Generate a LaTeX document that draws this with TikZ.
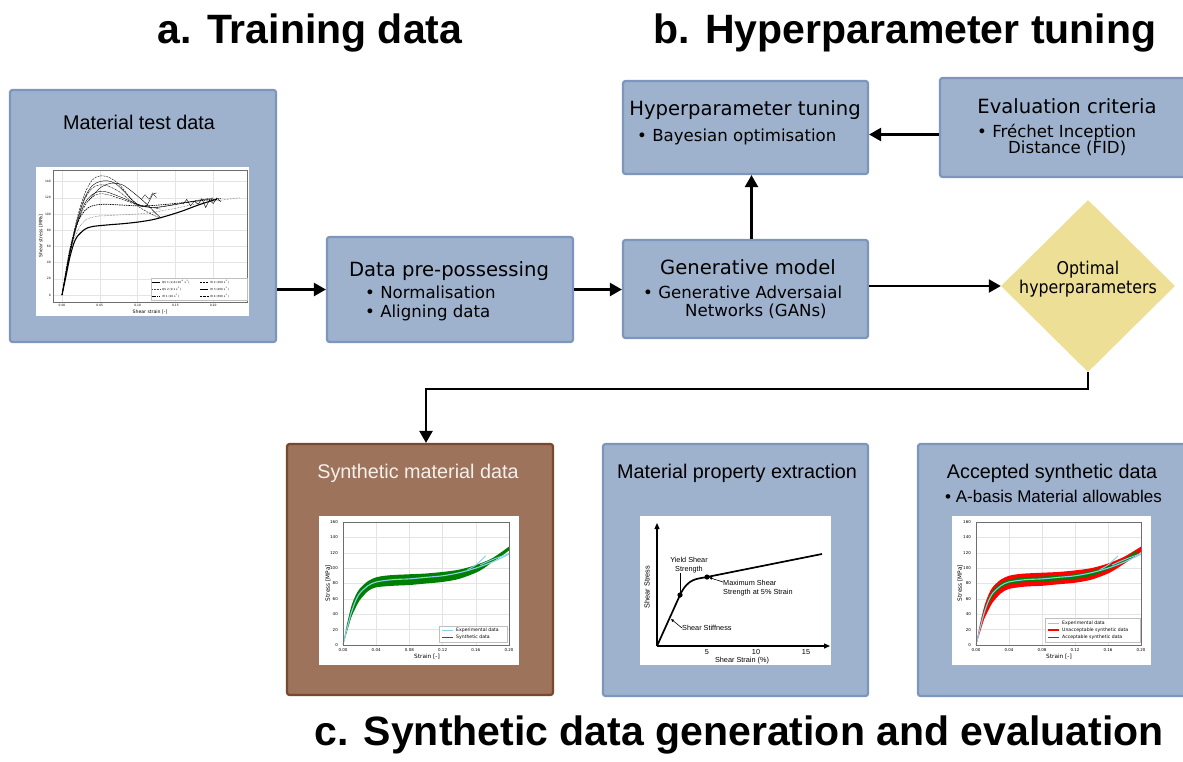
\documentclass[tikz,border=0pt]{standalone}
\usepackage{fontspec}
\setmainfont{Liberation Sans}
\newfontfamily\dv{DejaVu Sans}
\newfontfamily\dvc[FakeStretch=0.9]{DejaVu Sans}
\usetikzlibrary{arrows.meta,shapes.geometric}
\definecolor{boxfill}{RGB}{158,178,205}
\definecolor{boxline}{RGB}{126,150,189}
\definecolor{brownfill}{RGB}{157,115,91}
\definecolor{brownline}{RGB}{122,72,45}
\definecolor{diafill}{RGB}{238,223,150}
\definecolor{expblue}{RGB}{140,205,235}
\definecolor{syngreen}{RGB}{0,128,0}
\definecolor{gridgray}{RGB}{228,228,228}
\definecolor{framegray}{RGB}{110,110,110}
\definecolor{titlewhite}{RGB}{245,240,235}
\begin{document}
\begin{tikzpicture}[x=1pt,y=-1pt,
  box/.style={draw=boxline,fill=boxfill,line width=2.2pt,rounded corners=2.5pt,inner sep=0pt},
  brownbox/.style={draw=brownline,fill=brownfill,line width=2.2pt,rounded corners=2.5pt,inner sep=0pt},
  arr/.style={line width=2.4pt,-{Triangle[length=12pt,width=13pt]}},
  ttl/.style={font=\fontsize{41}{49}\selectfont\bfseries,anchor=base,inner sep=0pt},
  ahead/.style={font=\fontsize{19.8}{24}\selectfont,anchor=base,inner sep=0pt},
  dhead/.style={font=\dv\fontsize{19.6}{24}\selectfont,anchor=base,inner sep=0pt},
  dbul/.style={font=\dv\fontsize{16.6}{20}\selectfont,anchor=base west,inner sep=0pt},
  abul/.style={font=\fontsize{17}{20}\selectfont,anchor=base west,inner sep=0pt},
  dcnd/.style={font=\dvc\fontsize{17.6}{21}\selectfont,anchor=base,inner sep=0pt},
  panel/.style={fill=white,draw=none,inner sep=0pt},
  tk/.style={font=\dv\fontsize{3}{3.5}\selectfont,inner sep=0pt},
  tkb/.style={font=\dv\fontsize{4}{4.5}\selectfont,inner sep=0pt},
  axl/.style={font=\dv\fontsize{4.6}{5}\selectfont,inner sep=0pt},
  axlb/.style={font=\dv\fontsize{5.8}{6.5}\selectfont,inner sep=0pt},
  lg1/.style={font=\dv\fontsize{2.8}{3}\selectfont,anchor=west,inner sep=0pt},
  lg2/.style={font=\dv\fontsize{4.6}{5}\selectfont,anchor=west,inner sep=0pt},
  lbl/.style={font=\fontsize{7.3}{8.5}\selectfont,inner sep=0pt},
  grd/.style={gridgray,line width=0.3pt},
  small arr/.style={line width=0.6pt,-{Triangle[length=3pt,width=2.6pt]}}
]
\clip (0,0) rectangle (1183,761);
\fill[white] (0,0) rectangle (1183,761);

% ---------------- section titles
\node[ttl] (ta) at (310,43) {a. Training data};
\node[ttl] (tb) at (905,43) {b. Hyperparameter tuning};
\node[ttl] (tc) at (739,745) {c. Synthetic data generation and evaluation};

% ---------------- boxes
\node[box,minimum width=266,minimum height=252] (mat) at (143,216) {};
\node[box,minimum width=246,minimum height=105] (pre) at (450,289.5) {};
\node[box,minimum width=245,minimum height=98] (gen) at (745.5,289) {};
\node[box,minimum width=245,minimum height=93] (hyp) at (745.5,127.5) {};
\node[box,minimum width=255,minimum height=99] (eva) at (1067.5,127.5) {};
\node[diamond,fill=diafill,draw=none,aspect=1,minimum width=174,minimum height=172,inner sep=0pt] (dia) at (1088,286) {};
\node[brownbox,minimum width=266,minimum height=251] (syn) at (420,569.5) {};
\node[box,minimum width=265,minimum height=252] (prop) at (735.5,570) {};
\node[box,minimum width=272,minimum height=252] (acc) at (1054,570) {};

% ---------------- connectors
\draw[arr] (mat.east |- pre.west) -- (pre.west);
\draw[arr] (pre.east) -- (pre.east -| gen.west);
\draw[arr] ([xshift=6pt]gen.north) -- ([xshift=6pt]hyp.south);
\draw[arr] ([yshift=-7pt]eva.west) -- ([yshift=-7pt]eva.west -| hyp.east);
\draw[arr] (gen.east |- dia.west) -- (dia.west);
\draw[arr] (dia.south) -- ++(0,17) -| ([xshift=6pt]syn.north);

% ---------------- box texts
\node[ahead] (matT) at (139,129) {Material test data};
\node[dhead] (preT) at (449,276) {Data pre-possessing};
\node[dbul] (preB1) at (365,298) {• Normalisation};
\node[dbul] (preB2) at (365,317) {• Aligning data};
\node[dhead] (hypT) at (745,115) {Hyperparameter tuning};
\node[dbul] (hypB) at (637,141) {• Bayesian optimisation};
\node[dhead] (evaT) at (1067,113) {Evaluation criteria};
\node[dbul] (evaB1) at (977,137) {• Fréchet Inception};
\node[dbul] (evaB2) at (1008,153) {Distance (FID)};
\node[dhead] (genT) at (748,274) {Generative model};
\node[dbul] (genB1) at (643,298) {• Generative Adversaial};
\node[dbul] (genB2) at (685,316) {Networks (GANs)};
\node[dcnd] (diaT1) at (1088,274) {Optimal};
\node[dcnd] (diaT2) at (1088,293) {hyperparameters};
\node[ahead,text=titlewhite] (synT) at (418,478) {Synthetic material data};
\node[ahead] (propT) at (737,478) {Material property extraction};
\node[ahead] (accT) at (1052,478) {Accepted synthetic data};
\node[abul] (accB) at (945,502) {• A-basis Material allowables};

% ================= plot 1 : material test data
\node[panel,minimum width=213,minimum height=149] (p1) at (142.5,241.5) {};
\begin{scope}[shift={(62,295)},x=756pt,y=0.81pt]
  \foreach \s in {0,0.05,0.1,0.15,0.2} \draw[grd] (\s,-8.6) -- (\s,154.3);
  \foreach \v in {0,20,40,60,80,100,120,140} \draw[grd] (-0.0119,\v) -- (0.2447,\v);
  \draw[black,line width=1.1pt] plot[smooth] coordinates {(0,0)(0.005,22)(0.01,45)(0.015,62)(0.02,72)(0.03,81)(0.04,84.5)(0.06,86.5)(0.08,88)(0.1,90)(0.12,93)(0.14,98)(0.16,104)(0.18,111)(0.2,117)(0.205,118)};
  \draw[black!70,line width=0.5pt,densely dotted] plot[smooth] coordinates {(0,0)(0.01,50)(0.02,78)(0.03,92)(0.045,97)(0.06,98)(0.08,99)(0.1,100)(0.12,102)(0.15,107)(0.18,113)(0.21,117)(0.235,120)};
  \draw[black,line width=0.7pt,dash pattern=on 1.5pt off 0.8pt] plot[smooth] coordinates {(0,0)(0.01,55)(0.02,88)(0.03,104)(0.04,110)(0.055,112)(0.08,111)(0.1,110)(0.12,110.5)(0.15,113)(0.18,116)(0.21,119)};
  \draw[black,line width=0.4pt,dash pattern=on 2pt off 1pt] plot[smooth] coordinates {(0,0)(0.01,52)(0.02,95)(0.03,125)(0.04,142)(0.05,147)(0.06,146)(0.07,141)(0.08,132)(0.09,120)(0.1,110)(0.11,104)(0.12,99)(0.13,95)};
  \draw[black,line width=0.4pt] plot[smooth] coordinates {(0,0)(0.01,50)(0.02,92)(0.03,120)(0.04,135)(0.05,140)(0.06,141)(0.07,138)(0.08,130)(0.09,120)(0.1,112)(0.11,109)(0.115,115)(0.12,124)(0.125,126)};
  \draw[black,line width=0.4pt,dash pattern=on 2pt off 0.7pt on 0.5pt off 0.7pt] plot[smooth] coordinates {(0,0)(0.01,50)(0.02,90)(0.03,118)(0.04,132)(0.05,136)(0.06,135)(0.075,128)(0.09,117)(0.1,111)(0.12,108)(0.15,112)(0.18,117)(0.2,120)};
  \draw[black,line width=0.4pt] plot[smooth] coordinates {(0,0)(0.01,50)(0.02,88)(0.03,113)(0.04,124)(0.05,128)(0.06,127)(0.08,120)(0.1,112)(0.12,108)(0.14,110)(0.17,115)(0.2,119)};
  \draw[black,line width=0.4pt,dash pattern=on 2pt off 1pt] plot[smooth] coordinates {(0,0)(0.01,50)(0.02,86)(0.03,110)(0.04,121)(0.05,125)(0.06,124)(0.08,118)(0.1,111)(0.12,108)(0.13,106)};
  \draw[black,line width=0.4pt] plot[smooth] coordinates {(0.035,116)(0.05,132)(0.065,138)(0.08,136)(0.095,126)(0.11,114)(0.125,100)(0.13,96)};
  \draw[black,line width=0.4pt] (0.16,112)--(0.165,118)--(0.17,110)--(0.175,116)--(0.18,112)--(0.185,119)--(0.19,108)--(0.195,117)--(0.2,113)--(0.205,120)--(0.21,115);
  \draw[black,line width=0.4pt,dash pattern=on 1pt off 0.6pt] (0.105,118)--(0.11,124)--(0.115,118)--(0.12,126)--(0.125,120);
  \foreach \v [count=\i] in {0,20,40,60,80,100,120,140} \node[tk,anchor=east] (p1y\i) at (-0.0146,\v) {\v};
  \foreach \s/\l [count=\i] in {0/0.00,0.05/0.05,0.1/0.10,0.15/0.15,0.2/0.20} \node[tk] (p1x\i) at (\s,-12.5) {\l};
\end{scope}
\draw[framegray,line width=0.4pt] (53,170) rectangle (247,302);
\node[axl,rotate=90] (p1yl) at (41,236) {Shear stress [MPa]};
\node[axl] (p1xl) at (150,312) {Shear strain [-]};
\node[draw=black!25,fill=white,line width=0.3pt,minimum width=96,minimum height=22,inner sep=0pt] (p1leg) at (199,289) {};
\draw[black,line width=0.8pt] (152,282) -- (160,282);
\draw[black!70,line width=0.5pt,densely dotted] (152,289) -- (160,289);
\draw[black,line width=0.6pt,dash pattern=on 1.5pt off 0.8pt] (152,296) -- (160,296);
\draw[black,line width=0.4pt,dash pattern=on 2pt off 1pt] (200,282) -- (208,282);
\draw[black,line width=0.4pt] (200,289) -- (208,289);
\draw[black,line width=0.4pt,dash pattern=on 2pt off 0.7pt on 0.5pt off 0.7pt] (200,296) -- (208,296);
\node[lg1] (l11) at (162,282) {QS 1 (2.6×10\textsuperscript{-4} s\textsuperscript{-1})};
\node[lg1] (l12) at (162,289) {QS 2 (0.1 s\textsuperscript{-1})};
\node[lg1] (l13) at (162,296) {IR 1 (10 s\textsuperscript{-1})};
\node[lg1] (l14) at (210,282) {IR 2 (100 s\textsuperscript{-1})};
\node[lg1] (l15) at (210,289) {IR 3 (200 s\textsuperscript{-1})};
\node[lg1] (l16) at (210,296) {IR 4 (300 s\textsuperscript{-1})};

% ================= plot 2 : synthetic material data
\node[panel,minimum width=200,minimum height=149] (p2) at (419,590.5) {};
\begin{scope}[shift={(343,645)},x=830pt,y=0.769pt]
  \foreach \s in {0,0.04,0.08,0.12,0.16,0.2} \draw[grd] (\s,0) -- (\s,160);
  \foreach \v in {0,20,40,60,80,100,120,140,160} \draw[grd] (0,\v) -- (0.2,\v);
  \fill[syngreen] plot[smooth] coordinates {(0,0)(0.005,28)(0.01,50)(0.015,64)(0.02,73)(0.03,83)(0.04,88)(0.05,90)(0.06,91)(0.08,92)(0.1,93)(0.12,95)(0.14,98)(0.16,104)(0.18,113)(0.2,128)}
     -- plot[smooth] coordinates {(0.2,123)(0.19,115)(0.18,108)(0.17,100)(0.16,94)(0.14,86)(0.12,82)(0.1,80)(0.08,78)(0.06,77)(0.04,75)(0.03,70)(0.02,58)(0.015,48)(0.01,36)(0.005,18)(0,0)} -- cycle;
  \draw[expblue,line width=1.1pt] plot[smooth] coordinates {(0,0)(0.005,22)(0.01,42)(0.015,57)(0.02,67)(0.03,77)(0.04,82)(0.06,85)(0.08,86)(0.1,88)(0.12,90)(0.14,94)(0.16,100)(0.18,108)(0.2,118)};
  \draw[expblue,line width=0.9pt] plot[smooth] coordinates {(0.15,98)(0.16,104)(0.172,116)};
  \draw[expblue,line width=0.9pt] plot[smooth] coordinates {(0.165,104)(0.18,111)(0.2,119)};
  \foreach \v [count=\i] in {0,20,40,60,80,100,120,140,160} \node[tkb,anchor=east] (p2y\i) at (-0.006,\v) {\v};
  \foreach \s/\l [count=\i] in {0/0.00,0.04/0.04,0.08/0.08,0.12/0.12,0.16/0.16,0.2/0.20} \node[tkb] (p2x\i) at (\s,-7) {\l};
\end{scope}
\draw[framegray,line width=0.4pt] (343,522) rectangle (509,645);
\node[axlb,rotate=90] (p2yl) at (328,583) {Stress [MPa]};
\node[axlb] (p2xl) at (427,657) {Strain [-]};
\node[draw=black!25,fill=white,line width=0.3pt,minimum width=68,minimum height=16,inner sep=0pt] (p2leg) at (473,634) {};
\draw[expblue,line width=1pt] (442,630) -- (453,630);
\draw[syngreen,line width=1pt] (442,637) -- (453,637);
\node[lg2] (l21) at (456,630) {Experimental data};
\node[lg2] (l22) at (456,637) {Synthetic data};

% ================= plot 3 : accepted synthetic data
\node[panel,minimum width=199,minimum height=149] (p3) at (1051.5,590.5) {};
\begin{scope}[shift={(976,645)},x=825pt,y=0.769pt]
  \foreach \s in {0,0.04,0.08,0.12,0.16,0.2} \draw[grd] (\s,0) -- (\s,160);
  \foreach \v in {0,20,40,60,80,100,120,140,160} \draw[grd] (0,\v) -- (0.2,\v);
  \fill[red] plot[smooth] coordinates {(0,0)(0.005,28)(0.01,50)(0.015,65)(0.02,75)(0.03,85)(0.04,90)(0.05,92)(0.06,93)(0.08,94)(0.1,95)(0.12,97)(0.14,100)(0.16,106)(0.18,115)(0.2,128)}
     -- plot[smooth] coordinates {(0.2,121)(0.19,113)(0.18,106)(0.17,99)(0.16,93)(0.14,85)(0.12,81)(0.1,79)(0.08,77)(0.06,76)(0.04,73)(0.03,67)(0.02,55)(0.015,45)(0.01,34)(0.005,17)(0,0)} -- cycle;
  \fill[syngreen] plot[smooth] coordinates {(0,0)(0.01,46)(0.02,70)(0.03,80)(0.04,85)(0.06,88)(0.08,89)(0.1,90)(0.12,92)(0.14,96)(0.16,103)(0.18,112)(0.195,123)}
     -- plot[smooth] coordinates {(0.195,118)(0.18,108)(0.16,98)(0.14,90)(0.12,86)(0.1,84)(0.08,83)(0.06,82)(0.04,79)(0.03,74)(0.02,63)(0.01,40)(0,0)} -- cycle;
  \draw[expblue,line width=1.1pt] plot[smooth] coordinates {(0,0)(0.005,22)(0.01,42)(0.015,57)(0.02,67)(0.03,77)(0.04,82)(0.06,85)(0.08,86)(0.1,88)(0.12,90)(0.14,94)(0.16,100)(0.18,108)(0.2,118)};
  \draw[expblue,line width=0.9pt] plot[smooth] coordinates {(0.15,98)(0.16,104)(0.172,116)};
  \draw[expblue,line width=0.9pt] plot[smooth] coordinates {(0.165,104)(0.18,111)(0.2,119)};
  \foreach \v [count=\i] in {0,20,40,60,80,100,120,140,160} \node[tkb,anchor=east] (p3y\i) at (-0.006,\v) {\v};
  \foreach \s/\l [count=\i] in {0/0.00,0.04/0.04,0.08/0.08,0.12/0.12,0.16/0.16,0.2/0.20} \node[tkb] (p3x\i) at (\s,-7) {\l};
\end{scope}
\draw[framegray,line width=0.4pt] (976,522) rectangle (1141,645);
\node[axlb,rotate=90] (p3yl) at (960,583) {Stress [MPa]};
\node[axlb] (p3xl) at (1059,657) {Strain [-]};
\node[draw=black!25,fill=white,line width=0.3pt,minimum width=95,minimum height=24,inner sep=0pt] (p3leg) at (1092.5,630) {};
\draw[expblue,line width=1pt] (1048,623) -- (1059,623);
\draw[red,line width=1.6pt] (1048,630) -- (1059,630);
\draw[syngreen,line width=1pt] (1048,637) -- (1059,637);
\node[lg2] (l31) at (1062,623) {Experimental data};
\node[lg2] (l32) at (1062,630) {Unacceptable synthetic data};
\node[lg2] (l33) at (1062,637) {Acceptable synthetic data};

% ================= plot 4 : material property extraction
\node[panel,minimum width=191,minimum height=149] (p4) at (735.5,590.5) {};
\coordinate (o4) at (657,646);
\coordinate (ytop4) at (657,523);
\coordinate (xend4) at (830,646);
\coordinate (yield) at (680,595);
\coordinate (maxs) at (707,577);
\coordinate (cend) at (822,554);
\draw[line width=1.2pt,-{Triangle[length=6pt,width=5pt]}] (o4) -- (ytop4);
\draw[line width=1.2pt,-{Triangle[length=6pt,width=5pt]}] (o4) -- (xend4);
\draw[line width=1.7pt] (o4) -- (yield) .. controls (688,578) and (697,579) .. (maxs) -- (cend);
\fill (yield) circle (2.6pt);
\fill (maxs) circle (2.6pt);
\node[lbl,align=center] (ylab) at (689,565) {Yield Shear\\Strength};
\node[lbl,align=left,anchor=west] (mlab) at (723,588) {Maximum Shear\\Strength at 5\% Strain};
\node[lbl,anchor=west] (slab) at (682,628) {Shear Stiffness};
\coordinate (sarr) at (671,619);
\draw[small arr] (ylab.south -| yield) -- ([yshift=-3pt]yield);
\draw[small arr] (mlab.west |- 0,582) -- ([xshift=2pt,yshift=-0.5pt]maxs);
\draw[small arr] (slab.west) -- (sarr);
\node[lbl] (t5) at (707,652) {5};
\node[lbl] (t10) at (756,652) {10};
\node[lbl] (t15) at (806,652) {15};
\node[lbl] (sxl) at (742,661) {Shear Strain (\%)};
\node[lbl,rotate=90] (syl) at (647,587) {Shear Stress};
\end{tikzpicture}
\end{document}
